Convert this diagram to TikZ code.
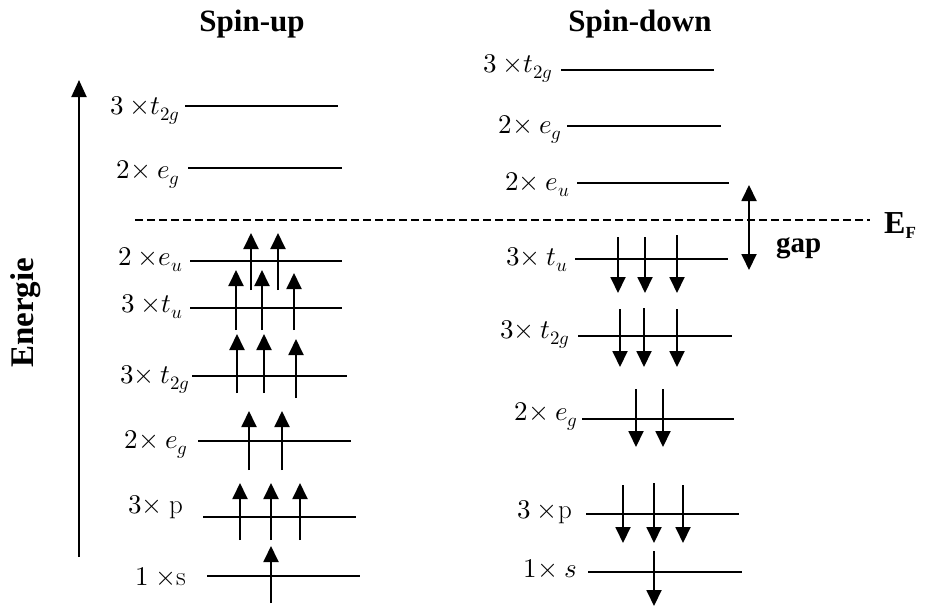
\documentclass[tikz,border=0pt]{standalone}
\usepackage{fontspec}
\usepackage{unicode-math}
\setmathfont{Latin Modern Math}
\newfontfamily\headfont{Liberation Serif}
\usetikzlibrary{arrows.meta}

% one energy level: name, start x, end x, height
\newcommand{\mklevel}[4]{%
  \coordinate (#1-a) at (#2,#4);
  \coordinate (#1-b) at (#3,#4);
  \draw[level] (#1-a) -- (#1-b);}
% label spacing: "3 x" and "x t"
\newcommand{\gp}{\mkern4mu}
\newcommand{\tm}{{\times}}

\begin{document}
\begin{tikzpicture}[
  x=1pt, y=-1pt,
  level/.style={line width=1.9pt},
  lbl/.style={anchor=base east, inner sep=0pt, font=\fontsize{27}{30}\selectfont},
  head/.style={anchor=base, inner sep=0pt, font=\headfont\bfseries\fontsize{31}{34}\selectfont},
  spin/.style={line width=1.9pt, -{Triangle[length=16pt,width=15pt]}},
  axis/.style={line width=1.9pt, -{Triangle[length=17pt,width=15pt]}},
  fermi/.style={line width=1.3pt, dash pattern=on 8pt off 4pt},
  gaparr/.style={line width=1.9pt, {Triangle[length=16pt,width=15pt]}-{Triangle[length=16pt,width=15pt]}}
]
\useasboundingbox (0,0) rectangle (925,608);

% headers and energy axis
\node[head] (up) at (252,31) {Spin-up};
\node[head] (down) at (640,31) {Spin-down};
\coordinate (ax-bot) at (79,557);
\coordinate (ax-top) at (79,80);
\draw[axis] (ax-bot) -- (ax-top);
\node[head, anchor=center, rotate=90, font=\headfont\bfseries\fontsize{33}{36}\selectfont] (energie) at (26,313) {Energie};

% Fermi level and gap
\coordinate (ef-l) at (135,220);
\coordinate (ef-r) at (870,220);
\draw[fermi] (ef-l) -- (ef-r);
\node[anchor=base west, inner sep=0pt, font=\headfont\bfseries\fontsize{32}{34}\selectfont] (ef) at (884,233)
  {E\raisebox{-5pt}{\fontsize{17}{18}\selectfont F}};
\coordinate (gap-t) at (749,185);
\coordinate (gap-b) at (749,270);
\draw[gaparr] (gap-t) -- (gap-b);
\node[anchor=base west, inner sep=0pt, font=\headfont\bfseries\fontsize{29}{32}\selectfont] (gap) at (776,252) {gap};

% spin-up levels
\mklevel{uA}{185}{338}{106}
\mklevel{uB}{188}{342}{168}
\mklevel{uC}{190}{342}{261}
\mklevel{uD}{190}{342}{308}
\mklevel{uE}{192}{347}{376}
\mklevel{uF}{198}{351}{441}
\mklevel{uG}{203}{356}{517}
\mklevel{uH}{207}{360}{576}
\node[lbl] (uA-l) at ([shift={(-5,8)}]uA-a) {$3\gp\tm t_{2g}$};
\node[lbl] (uB-l) at ([shift={(-8,10)}]uB-a) {$2\tm\gp e_g$};
\node[lbl] (uC-l) at ([shift={(-7,4)}]uC-a) {$2\gp\tm e_u$};
\node[lbl] (uD-l) at ([shift={(-7,4)}]uD-a) {$3\gp\tm t_u$};
\node[lbl] (uE-l) at ([shift={(-2,7)}]uE-a) {$3\tm\gp t_{2g}$};
\node[lbl] (uF-l) at ([shift={(-10,7)}]uF-a) {$2\tm\gp e_g$};
\node[lbl] (uG-l) at ([shift={(-20,-4)}]uG-a) {$3\tm\gp \mathup{p}$};
\node[lbl] (uH-l) at ([shift={(-21,9)}]uH-a) {$1\gp\tm \mathup{s}$};

% spin-down levels
\mklevel{dA}{561}{714}{70}
\mklevel{dB}{567}{721}{126}
\mklevel{dC}{577}{729}{183}
\mklevel{dD}{575}{728}{259}
\mklevel{dE}{578}{732}{336}
\mklevel{dF}{582}{734}{419}
\mklevel{dG}{586}{739}{514}
\mklevel{dH}{588}{742}{572}
\node[lbl] (dA-l) at ([shift={(-8,2)}]dA-a) {$3\gp\tm t_{2g}$};
\node[lbl] (dB-l) at ([shift={(-5,7)}]dB-a) {$2\tm\gp e_g$};
\node[lbl] (dC-l) at ([shift={(-7,7)}]dC-a) {$2\tm\gp e_u$};
\node[lbl] (dD-l) at ([shift={(-7,6)}]dD-a) {$3\tm\gp t_u$};
\node[lbl] (dE-l) at ([shift={(-8,2)}]dE-a) {$3\tm\gp t_{2g}$};
\node[lbl] (dF-l) at ([shift={(-4,1)}]dF-a) {$2\tm\gp e_g$};
\node[lbl] (dG-l) at ([shift={(-14,4)}]dG-a) {$3\gp\tm \mathup{p}$};
\node[lbl] (dH-l) at ([shift={(-11,5)}]dH-a) {$1\tm\gp s$};

% electrons: x / tail / tip
\foreach \x/\ya/\yb in {251/290/233, 278/290/233,
    236/330/270, 262/330/270, 294/330/273,
    237/393/334, 264/393/334, 296/398/339,
    249/470/411, 282/470/411,
    240/540/483, 271/540/483, 300/540/483,
    271/603/546}
  \draw[spin] (\x,\ya) -- (\x,\yb);
\foreach \x/\ya/\yb in {618/237/293, 645/237/293, 677/235/293,
    620/309/367, 644/308/367, 677/309/367,
    636/389/447, 663/389/447,
    623/485/543, 654/483/543, 683/485/543,
    654/551/606}
  \draw[spin] (\x,\ya) -- (\x,\yb);
\end{tikzpicture}
\end{document}
